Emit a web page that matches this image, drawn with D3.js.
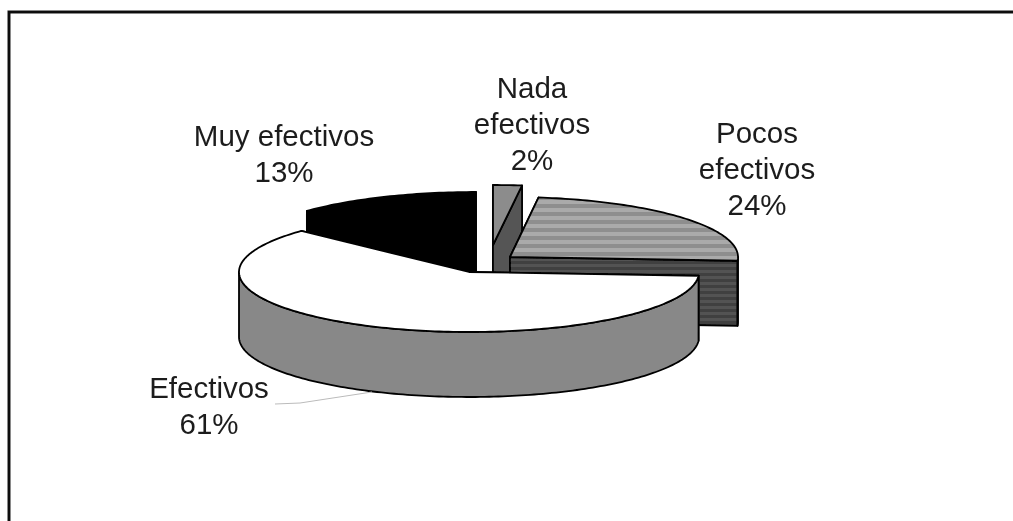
<!DOCTYPE html>
<html><head><meta charset="utf-8">
<script src="https://cdnjs.cloudflare.com/ajax/libs/d3/7.8.5/d3.min.js"></script>
<style>html,body{margin:0;padding:0;background:#fff}svg{display:block}text{font-family:"Liberation Sans",Arial,sans-serif;fill:#1c1c1c}</style>
</head><body><script>
const categories=["Muy efectivos","Nada efectivos","Pocos efectivos","Efectivos"];
const values=[13,2,24,61];
const labelLines=[["Muy efectivos","13%"],["Nada","efectivos","2%"],["Pocos","efectivos","24%"],["Efectivos","61%"]];
const labelX=[284,532,757,209];
const labelY=[146,98,143,398];
const centers=[[476,252],[493,245],[510,257],[469,272]];
const radii=[232,232,228,230];
const topFill=["#000","#8c8c8c","url(#st)","#fff"];
const wallFill=["#000","#555","url(#sw)","#888"];
const W=1013,H=521,ry=60,depth=65;
const svg=d3.select("body").append("svg").attr("width",W).attr("height",H);
const defs=svg.append("defs");
const pat=(id,a,b,h,s)=>{const p=defs.append("pattern").attr("id",id).attr("patternUnits","userSpaceOnUse").attr("width",8).attr("height",h);
 p.append("rect").attr("width",8).attr("height",h).attr("fill",a);
 p.append("rect").attr("y",0).attr("width",8).attr("height",s).attr("fill",b);};
pat("st","#8e8e8e","#aaaaaa",8,4);pat("sw","#404040","#525252",6,3);
defs.append("filter").attr("id","soft").attr("filterUnits","userSpaceOnUse").attr("x",0).attr("y",0).attr("width",W).attr("height",H).append("feGaussianBlur").attr("stdDeviation",0.6);
const root=svg.append("g").attr("filter","url(#soft)");
root.append("path").attr("d",`M9,${H+5}V12H${W+5}`).attr("fill","none").attr("stroke","#111").attr("stroke-width",3);
const pie=d3.pie().sort(null).startAngle(-0.13*2*Math.PI).endAngle(0.87*2*Math.PI);
const arcs=pie(values);
const line=d3.line();
function pt(i,t,z){const [cx,cy]=centers[i];return [cx+radii[i]*Math.sin(t),cy-ry*Math.cos(t)+z];}
function rim(i,a,b,z){const n=Math.max(2,Math.ceil((b-a)/0.02));return d3.range(n+1).map(k=>pt(i,a+(b-a)*k/n,z));}
const style=s=>s.attr("stroke","#000").attr("stroke-width",1.8).attr("stroke-linejoin","round");
arcs.forEach((d,i)=>{
 const g=root.append("g");
 const c=centers[i];
 [d.startAngle,d.endAngle].forEach(t=>{
  const p=pt(i,t,0),q=pt(i,t,depth);
  g.append("path").attr("d",line([c,p,q,[c[0],c[1]+depth]])+"Z").attr("fill",wallFill[i]).call(style);
 });
 const a=Math.max(d.startAngle,Math.PI/2),b=Math.min(d.endAngle,1.5*Math.PI);
 if(b>a){g.append("path").attr("d",line(rim(i,a,b,0).concat(rim(i,a,b,depth).reverse()))+"Z").attr("fill",wallFill[i]).call(style);}
 g.append("path").attr("d",line([c].concat(rim(i,d.startAngle,d.endAngle,0)))+"Z").attr("fill",topFill[i]).call(style);
});
root.append("path").attr("d",line([[275,404],[300,403],[372,392]])).attr("fill","none").attr("stroke","#bbb").attr("stroke-width",1);
labelLines.forEach((ls,i)=>{ls.forEach((s,j)=>{
 root.append("text").attr("x",labelX[i]).attr("y",labelY[i]+j*36).attr("text-anchor","middle").attr("font-size",29.5).text(s);
});});
</script></body></html>
